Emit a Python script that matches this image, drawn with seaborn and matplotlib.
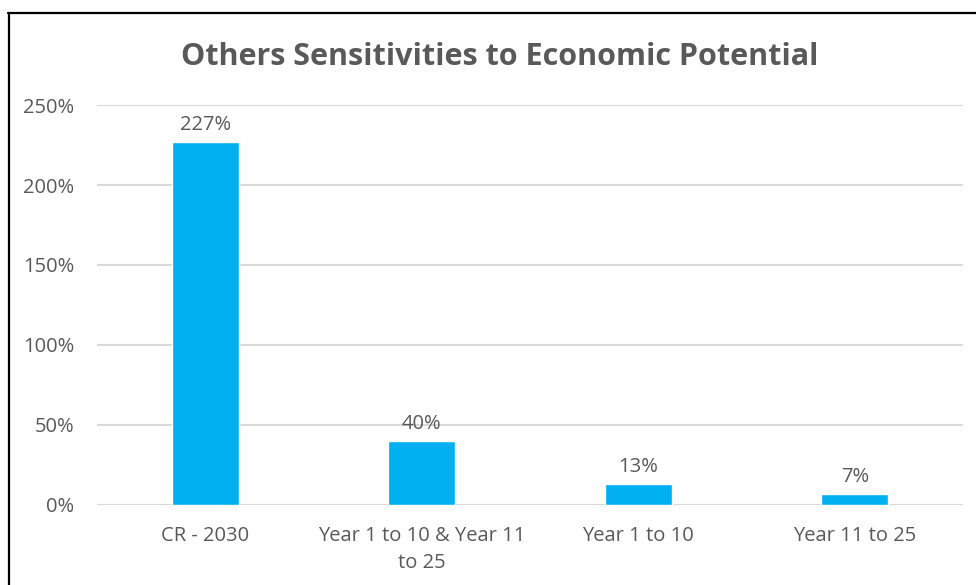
import matplotlib
matplotlib.use("Agg")
import matplotlib.pyplot as plt
import seaborn as sns
import pandas as pd
from matplotlib.lines import Line2D

categories = ["CR - 2030", "Year 1 to 10 & Year 11\nto 25", "Year 1 to 10", "Year 11 to 25"]
values = [2.27, 0.40, 0.13, 0.07]
value_labels = ["227%", "40%", "13%", "7%"]
y_ticks = [0, 0.5, 1.0, 1.5, 2.0, 2.5]
y_tick_labels = ["0%", "50%", "100%", "150%", "200%", "250%"]
title = "Others Sensitivities to Economic Potential"

sns.set_theme(style="white")
plt.rcParams["font.family"] = ["Open Sans", "DejaVu Sans"]

text_gray = "#595959"
bar_color = "#00B0F0"
grid_gray = "#D9D9D9"

df = pd.DataFrame({"category": categories, "value": values})

fig = plt.figure(figsize=(9.76, 5.85), dpi=100)
ax = fig.add_axes([0.0994, 0.1368, 0.8873, 0.6837])

sns.barplot(data=df, x="category", y="value", color=bar_color, width=0.31,
            saturation=1, ax=ax, zorder=3)

ax.set_ylim(0, 2.5)
ax.set_yticks(y_ticks)
ax.set_yticklabels(y_tick_labels)
ax.set_xlim(-0.5, len(categories) - 0.5)
ax.set_xlabel("")
ax.set_ylabel("")

for y in y_ticks:
    ax.axhline(y, color=grid_gray, linewidth=1.5, zorder=1)

for spine in ax.spines.values():
    spine.set_visible(False)

ax.tick_params(axis="y", length=0, pad=16.5, labelsize=14.5, labelcolor=text_gray)
ax.tick_params(axis="x", length=0, pad=15, labelsize=14.5, labelcolor=text_gray)
for lab in ax.get_xticklabels():
    lab.set_linespacing(1.45)

for i, (v, lab) in enumerate(zip(values, value_labels)):
    ax.annotate(lab, (i, v), xytext=(0, 5), textcoords="offset points",
                ha="center", va="bottom", fontsize=14.5, color=text_gray)

fig.text(0.512, 0.903, title, ha="center", va="center", fontsize=22,
         fontweight="bold", color=text_gray)

# frame edges along the left and top of the chart area
fig.add_artist(Line2D([0.0092, 0.0092], [0.0, 0.978], color="black", linewidth=1.6,
                      transform=fig.transFigure))
fig.add_artist(Line2D([0.0085, 1.0], [0.9775, 0.9775], color="black", linewidth=1.6,
                      transform=fig.transFigure))

fig.savefig("out.png", dpi=100, facecolor="white")
